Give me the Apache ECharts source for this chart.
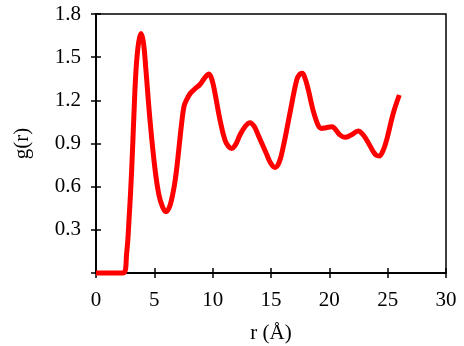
<!DOCTYPE html>
<html>
<head>
<meta charset="utf-8">
<script src="https://cdn.jsdelivr.net/npm/echarts@6/dist/echarts.min.js"></script>
<style>
  html, body { margin: 0; padding: 0; background: #fff; }
  #chart { width: 464px; height: 346px; }
</style>
</head>
<body>
<div id="chart"></div>
<script>
// r (Å) 和 g(r) 读图数据
var rValues = [0, 1.5, 2.34, 2.63, 2.83, 3.06, 3.23, 3.43, 3.65, 3.86, 4.07, 4.28, 4.63, 5.06, 5.4, 5.7, 6.0, 6.25, 6.45, 6.7, 6.91, 7.34, 7.55, 7.77, 8.1, 8.48, 8.91, 9.35, 9.68, 9.95, 10.2, 10.63, 11.05, 11.35, 11.63, 11.95, 12.34, 12.8, 13.2, 13.55, 13.9, 14.6, 15.0, 15.34, 15.7, 16.05, 16.62, 17.2, 17.45, 17.68, 17.93, 18.2, 18.77, 19.34, 19.7, 20.2, 20.9, 21.34, 21.9, 22.48, 22.85, 23.2, 23.77, 24.0, 24.28, 24.6, 24.91, 25.48, 26.0];
var gValues = [0, 0, 0, 0.14, 0.37, 0.72, 1.06, 1.41, 1.6, 1.665, 1.6, 1.41, 1.06, 0.72, 0.54, 0.46, 0.426, 0.45, 0.5, 0.6, 0.72, 1.04, 1.16, 1.205, 1.25, 1.28, 1.31, 1.36, 1.383, 1.34, 1.249, 1.063, 0.924, 0.88, 0.866, 0.89, 0.959, 1.02, 1.045, 1.02, 0.959, 0.83, 0.76, 0.734, 0.77, 0.878, 1.11, 1.341, 1.38, 1.388, 1.35, 1.272, 1.086, 1.005, 1.01, 1.017, 0.96, 0.943, 0.96, 0.987, 0.965, 0.924, 0.843, 0.82, 0.813, 0.85, 0.924, 1.11, 1.237];
var xTicks = [0, 5, 10, 15, 20, 25, 30];
var yTicks = [0, 0.3, 0.6, 0.9, 1.2, 1.5, 1.8];

var points = rValues.map(function (r, i) { return [r, gValues[i]]; });

var myChart = echarts.init(document.getElementById('chart'));
var font = 'Liberation Serif';
var axisLineStyle = { color: '#000', width: 1.5 };
var tickStyle = { inside: true, length: 5, lineStyle: { color: '#000', width: 1.5 } };
var option = {
  animation: false,
  grid: {
    left: 96, right: 18, top: 14, bottom: 73,
    outerBoundsMode: 'none',
    containLabel: false,
    show: true,
    borderColor: '#000',
    borderWidth: 1.5
  },
  xAxis: [
    {
      type: 'value',
      min: xTicks[0], max: xTicks[xTicks.length - 1], interval: 5,
      name: 'r (Å)',
      nameLocation: 'middle',
      nameGap: 50,
      nameTextStyle: { fontFamily: font, fontSize: 21, color: '#000' },
      axisLine: { lineStyle: axisLineStyle },
      axisTick: tickStyle,
      axisLabel: { fontFamily: font, fontSize: 21, color: '#000', margin: 17 },
      splitLine: { show: false }
    },
    {
      type: 'value', position: 'top',
      min: xTicks[0], max: xTicks[xTicks.length - 1], interval: 5,
      axisLine: { lineStyle: axisLineStyle },
      axisTick: tickStyle,
      axisLabel: { show: false },
      splitLine: { show: false }
    }
  ],
  yAxis: [
    {
      type: 'value',
      min: yTicks[0], max: yTicks[yTicks.length - 1], interval: 0.3,
      name: 'g(r)',
      nameLocation: 'middle',
      nameGap: 63,
      nameTextStyle: { fontFamily: font, fontSize: 21, color: '#000' },
      axisLine: { lineStyle: axisLineStyle },
      axisTick: tickStyle,
      axisLabel: {
        fontFamily: font, fontSize: 21, color: '#000', margin: 15,
        formatter: function (v) { return v === 0 ? '' : v.toFixed(1); }
      },
      splitLine: { show: false }
    },
    {
      type: 'value', position: 'right',
      min: yTicks[0], max: yTicks[yTicks.length - 1], interval: 0.3,
      axisLine: { lineStyle: axisLineStyle },
      axisTick: tickStyle,
      axisLabel: { show: false },
      splitLine: { show: false }
    }
  ],
  series: [
    {
      type: 'line',
      data: points,
      smooth: 0.4,
      symbol: 'none',
      clip: false,
      lineStyle: { color: '#ff0000', width: 5 }
    }
  ]
};
myChart.setOption(option);
</script>
</body>
</html>
